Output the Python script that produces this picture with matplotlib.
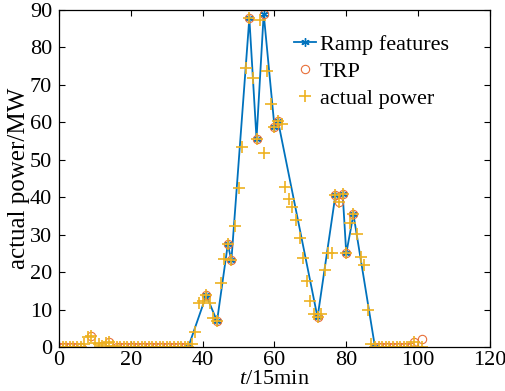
import numpy as np
import matplotlib
matplotlib.use("Agg")
import matplotlib.pyplot as plt

plt.rcParams['font.family'] = ['Liberation Serif', 'DejaVu Serif']
plt.rcParams['mathtext.fontset'] = 'custom'
plt.rcParams['mathtext.it'] = 'Liberation Serif:italic'
plt.rcParams['mathtext.rm'] = 'Liberation Serif'

# actual power, one value per 15 min step (t = 0..101)
actual_power = [
    0, 0, 0, 0, 0, 0, 0, 0.8, 2.8, 3.0,            # 0-9
    1.2, 0.8, 0.3, 1.0, 1.3, 0.3, 0, 0, 0, 0,      # 10-19
    0, 0, 0, 0, 0, 0, 0, 0, 0, 0,                  # 20-29
    0, 0, 0, 0, 0, 0, 0, 0.8, 4.0, 11.8,           # 30-39
    12.4, 13.8, 11.8, 7.8, 6.9, 17.0, 23.5, 27.4, 23.2, 32.3,   # 40-49
    42.5, 53.4, 74.6, 87.8, 71.9, 55.6, 87.4, 51.7, 73.8, 64.8,  # 50-59
    58.8, 60.3, 59.5, 42.6, 39.5, 37.4, 34.0, 29.1, 23.9, 17.6,  # 60-69
    12.4, 8.8, 7.9, 8.7, 20.5, 25.0, 25.0, 40.7, 38.8, 40.9,     # 70-79
    25.0, 33.2, 35.4, 30.2, 24.0, 21.8, 9.9, 0.8, 0, 0,          # 80-89
    0, 0, 0, 0, 0, 0, 0, 0, 0, 1.3,                # 90-99
    0, 0,                                          # 100-101
]
t_actual = np.arange(len(actual_power))

# ramp feature points
ramp_t = [36, 41, 44, 47, 48, 53, 55, 57, 60, 61, 72, 77, 79, 80, 82, 88]
ramp_p = [0, 13.8, 6.9, 27.4, 23.2, 87.8, 55.6, 89.0, 58.8, 60.3,
          7.9, 40.7, 40.9, 25.0, 35.4, 0]

# TRP points
trp_t = (list(range(0, 7)) + [9, 12, 14] + list(range(16, 37))
         + [41, 44, 47, 48, 53, 55, 57, 60, 61, 72, 77, 78, 79, 80, 82]
         + list(range(88, 99)) + [99, 101])
trp_p = ([0] * 7 + [3.0, 0.3, 1.3] + [0] * 21
         + [13.8, 6.9, 27.4, 23.2, 87.8, 55.6, 89.0, 58.8, 60.3, 7.9,
            40.7, 38.8, 40.9, 25.0, 35.4]
         + [0] * 11 + [1.3, 2.2])

fig = plt.figure(figsize=(5.05, 3.91), dpi=100)
ax = fig.add_axes([0.117, 0.1125, 0.853, 0.862])

ax.plot(ramp_t, ramp_p, '-', marker=(6, 2, 0), color='#0072BD',
        linewidth=1.3, markersize=6, markeredgewidth=1.0,
        label='Ramp features')
ax.plot(trp_t, trp_p, 'o', color='#E8703A', markerfacecolor='none',
        markersize=6, markeredgewidth=0.8, label='TRP')
ax.plot(t_actual, actual_power, '+', color='#EDB120', markersize=8,
        markeredgewidth=1.2, label='actual power')

ax.set_xlim(0, 120)
ax.set_ylim(0, 90)
ax.set_xticks(np.arange(0, 121, 20))
ax.set_yticks(np.arange(0, 91, 10))
ax.tick_params(direction='in', top=True, right=True, labelsize=16,
               length=4, width=0.8)
ax.tick_params(axis='x', pad=3)
ax.tick_params(axis='y', pad=5)
for s in ax.spines.values():
    s.set_linewidth(0.9)

ax.set_xlabel(r'$\mathit{t}$/15min', fontsize=16, labelpad=0)
ax.set_ylabel('actual power/MW', fontsize=18, labelpad=0)

ax.legend(loc='upper right', frameon=False, fontsize=16,
          handlelength=1.0, handletextpad=0.15, labelspacing=0.3,
          borderaxespad=0.0, bbox_to_anchor=(0.925, 0.955))

fig.savefig('out.png', dpi=100)
